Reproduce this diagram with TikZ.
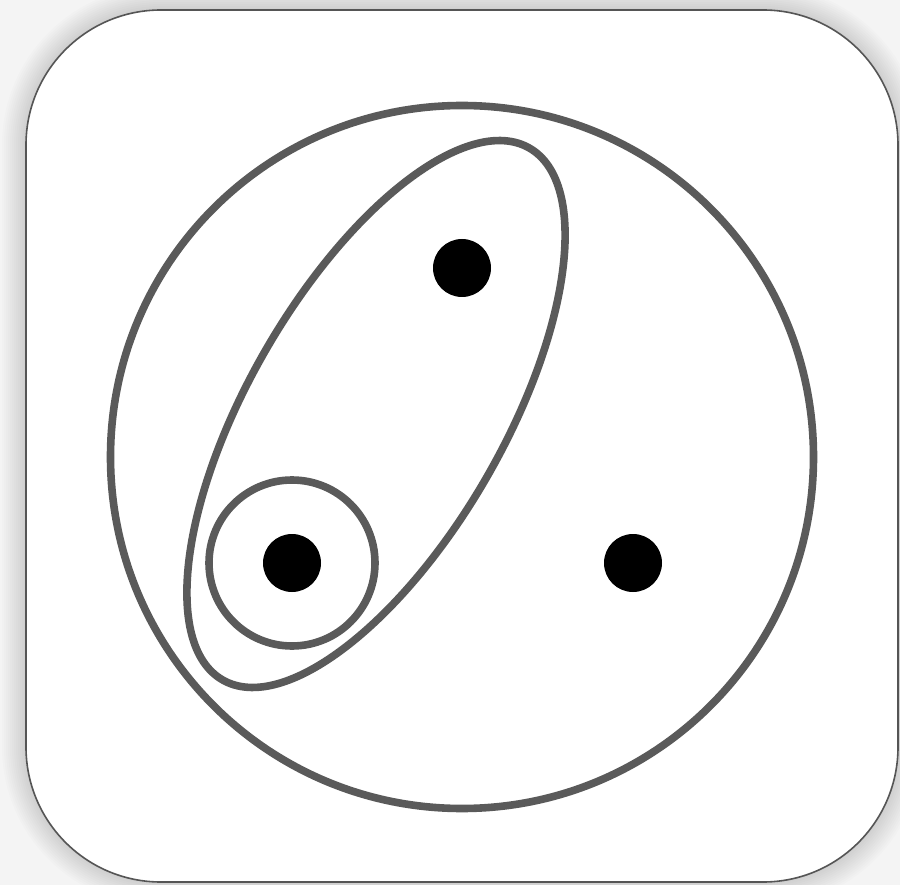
\documentclass[tikz,border=0pt]{standalone}
\usetikzlibrary{shapes.geometric}
\definecolor{ring}{HTML}{5A5A5A}
\definecolor{frame}{HTML}{555555}
\definecolor{bg}{HTML}{F4F4F4}
\tikzset{
  ringline/.style={draw=ring, line width=7.6pt, inner sep=0pt, outer sep=0pt},
  dot/.style={circle, fill=black, inner sep=0pt, minimum size=58pt},
}
\begin{document}
\begin{tikzpicture}[x=1pt,y=-1pt]
\useasboundingbox (0,0) rectangle (900,885);
\fill[bg] (0,0) rectangle (900,885);
% soft shadow
\foreach \i in {0,...,11} {
  \pgfmathsetmacro{\e}{24-2*\i}
  \fill[black, opacity=0.012, rounded corners=135+\e] (26-\e,10-\e) rectangle (898+\e,882+\e);
}
% frame
\node[draw=frame, line width=1.6pt, fill=white, rounded corners=135pt, minimum width=872pt, minimum height=872pt, inner sep=0pt] (frame) at (462,446) {};
% big circle
\node[ringline, circle, minimum size=703pt] (big) at (462,457) {};
% ellipse
\node[ringline, ellipse, minimum width=614pt, minimum height=255pt, rotate=60] (ell) at (376,414) {};
% small circle
\node[ringline, circle, minimum size=166pt] (small) at (292,563) {};
% dots
\node[dot] (d1) at (462,268) {};
\node[dot] (d2) at (292,563) {};
\node[dot] (d3) at (633,563) {};
\end{tikzpicture}
\end{document}
